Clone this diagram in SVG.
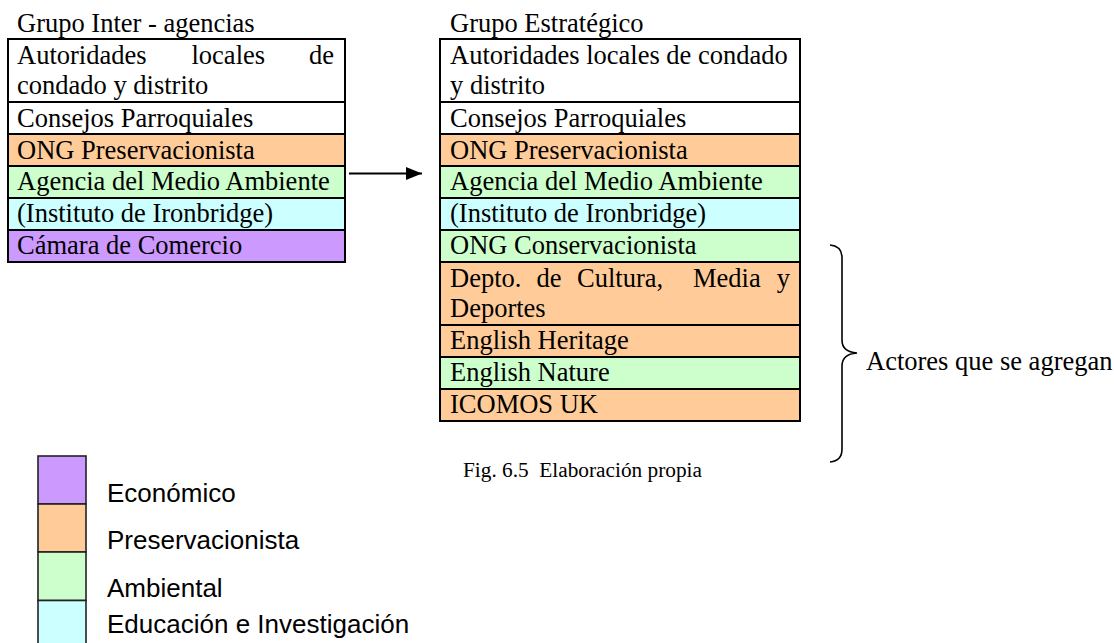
<svg xmlns="http://www.w3.org/2000/svg" width="1114" height="643" viewBox="0 0 1114 643">
<defs>
<style>
.t{font-family:"Liberation Serif","Times New Roman",serif;font-size:26.5px;fill:#000}
.s{font-family:"Liberation Sans",Arial,sans-serif;font-size:26px;fill:#000}
.c{stroke:#000;stroke-width:2}
.lg{stroke:#222;stroke-width:1.6}
.w{fill:#fff}.o{fill:#FFCC99}.g{fill:#CCFFCC}.b{fill:#CCFFFF}.p{fill:#CC99FF}
</style>
<marker id="ah" markerWidth="16" markerHeight="13" refX="16" refY="6.5" orient="auto" markerUnits="userSpaceOnUse">
<path d="M0,0 L16,6.5 L0,13 Z" fill="#000"/>
</marker>
</defs>
<rect width="1114" height="643" fill="#fff"/>

<g id="inter-agencias">
<text class="t" x="17" y="31.5">Grupo Inter - agencias</text>
<g id="ia-autoridades"><rect class="c w" x="8" y="39" width="337" height="63"/><text class="t" y="63.5"><tspan x="17">Autoridades</tspan><tspan x="191.5">locales</tspan><tspan x="334" text-anchor="end">de</tspan></text><text class="t" x="17" y="94">condado y distrito</text></g>
<g id="ia-consejos"><rect class="c w" x="8" y="102" width="337" height="32"/><text class="t" x="17" y="126.5">Consejos Parroquiales</text></g>
<g id="ia-ong-pres"><rect class="c o" x="8" y="134" width="337" height="32"/><text class="t" x="17" y="158.5">ONG Preservacionista</text></g>
<g id="ia-agencia"><rect class="c g" x="8" y="166" width="337" height="32"/><text class="t" x="17" y="190">Agencia del Medio Ambiente</text></g>
<g id="ia-instituto"><rect class="c b" x="8" y="198" width="337" height="32"/><text class="t" x="17" y="222">(Instituto de Ironbridge)</text></g>
<g id="ia-camara"><rect class="c p" x="8" y="230" width="337" height="32"/><text class="t" x="17" y="254">Cámara de Comercio</text></g>
</g>

<g id="estrategico">
<text class="t" x="450" y="31.5">Grupo Estratégico</text>
<g id="ge-autoridades"><rect class="c w" x="440" y="39" width="360" height="63"/><text class="t" x="450" y="63.5">Autoridades locales de condado</text><text class="t" x="450" y="94">y distrito</text></g>
<g id="ge-consejos"><rect class="c w" x="440" y="102" width="360" height="32"/><text class="t" x="450" y="126.5">Consejos Parroquiales</text></g>
<g id="ge-ong-pres"><rect class="c o" x="440" y="134" width="360" height="32"/><text class="t" x="450" y="158.5">ONG Preservacionista</text></g>
<g id="ge-agencia"><rect class="c g" x="440" y="166" width="360" height="32"/><text class="t" x="450" y="190">Agencia del Medio Ambiente</text></g>
<g id="ge-instituto"><rect class="c b" x="440" y="198" width="360" height="32"/><text class="t" x="450" y="222">(Instituto de Ironbridge)</text></g>
<g id="ge-ong-cons"><rect class="c g" x="440" y="230" width="360" height="32"/><text class="t" x="450" y="254">ONG Conservacionista</text></g>
<g id="ge-depto"><rect class="c o" x="440" y="262" width="360" height="63"/><text class="t" y="286.5"><tspan x="450">Depto.</tspan><tspan x="536.5">de</tspan><tspan x="577">Cultura,</tspan><tspan x="693">Media</tspan><tspan x="790" text-anchor="end">y</tspan></text><text class="t" x="450" y="317">Deportes</text></g>
<g id="ge-heritage"><rect class="c o" x="440" y="325" width="360" height="32"/><text class="t" x="450" y="349">English Heritage</text></g>
<g id="ge-nature"><rect class="c g" x="440" y="357" width="360" height="32"/><text class="t" x="450" y="381">English Nature</text></g>
<g id="ge-icomos"><rect class="c o" x="440" y="389" width="360" height="32"/><text class="t" x="450" y="413">ICOMOS UK</text></g>
</g>

<g id="connectors">
<line x1="349" y1="173.5" x2="422" y2="173.5" stroke="#000" stroke-width="2.2" marker-end="url(#ah)"/>
<path d="M830,245 Q842,246 842,258 L842,340 Q842,352 857,353 Q842,354 842,366 L842,449 Q842,461 830,462" fill="none" stroke="#000" stroke-width="1.6"/>
</g>

<g id="brace-label"><text class="t" x="866" y="370">Actores que se agregan</text></g>
<g id="caption"><text class="t" x="463" y="477" style="font-size:21.3px" xml:space="preserve">Fig. 6.5  Elaboración propia</text></g>

<g id="legend">
<rect class="lg p" x="38" y="456" width="48" height="48"/>
<rect class="lg o" x="38" y="504" width="48" height="48"/>
<rect class="lg g" x="38" y="552" width="48" height="48.5"/>
<rect class="lg b" x="38" y="600.5" width="48" height="48"/>
<text class="s" x="107" y="501.5">Económico</text>
<text class="s" x="107" y="549">Preservacionista</text>
<text class="s" x="107" y="596.5">Ambiental</text>
<text class="s" x="107" y="633">Educación e Investigación</text>
</g>
</svg>
